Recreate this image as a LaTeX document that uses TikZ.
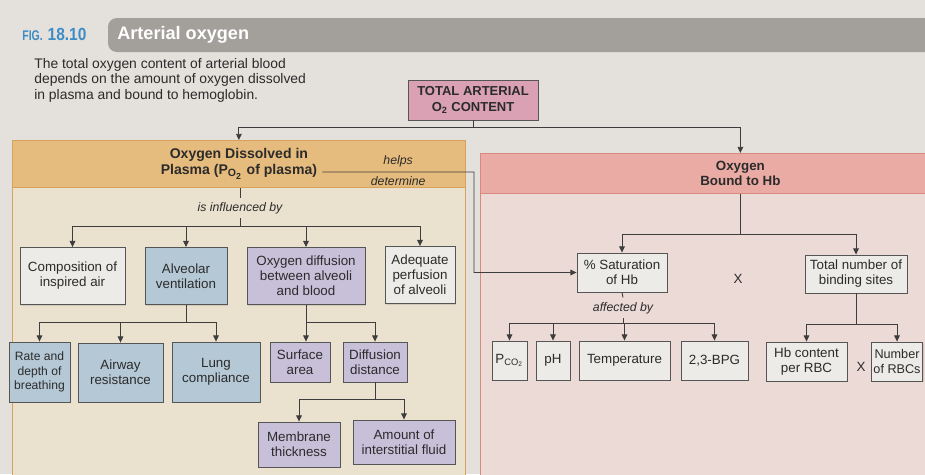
\documentclass[tikz,border=0pt]{standalone}
\usepackage{fontspec}
\setmainfont{Liberation Sans}
\usetikzlibrary{arrows.meta,shadows}

\definecolor{pagebg}{HTML}{E4E1DC}
\definecolor{titlebar}{HTML}{A39F9B}
\definecolor{figblue}{HTML}{3E8CC6}
\definecolor{inkcol}{HTML}{2B2B2B}
\definecolor{linecol}{HTML}{3D3D3D}
\definecolor{boxline}{HTML}{555555}
\definecolor{totalpink}{HTML}{D9A1B3}
\definecolor{lheadcol}{HTML}{E6BC7E}
\definecolor{lheadline}{HTML}{D9A25C}
\definecolor{lbodycol}{HTML}{EBE1CF}
\definecolor{rheadcol}{HTML}{E9ABA3}
\definecolor{rheadline}{HTML}{D98A80}
\definecolor{rbodycol}{HTML}{EBDAD6}
\definecolor{plainbox}{HTML}{ECEBE7}
\definecolor{bluebox}{HTML}{B5C8D5}
\definecolor{purplebox}{HTML}{C8BFD9}

\begin{document}
\begin{tikzpicture}[x=0.02cm,y=-0.02cm]
    \tikzstyle{every node}+=[inner sep=0pt, text=inkcol]
    \tikzstyle{box}=[draw=boxline, line width=0.5pt, align=center, font=\fontsize{7.6}{8.5}\selectfont, drop shadow={shadow xshift=0.7pt, shadow yshift=-0.7pt, opacity=0.25}]
    \tikzstyle{plain}=[box, fill=plainbox]
    \tikzstyle{blue}=[box, fill=bluebox]
    \tikzstyle{violet}=[box, fill=purplebox]
    \tikzstyle{con}=[draw=linecol, line width=0.5pt]
    \tikzstyle{arr}=[con, -{Triangle[length=3.5pt,width=3.2pt]}]
    \tikzstyle{note}=[inner sep=2.5pt, font=\fontsize{7}{8}\selectfont\itshape]
    \useasboundingbox (0,0) rectangle (925,474);
    \clip (0,0) rectangle (925,474);
    \fill [pagebg] (0,0) rectangle (925,474);
    % title strip
    \fill [titlebar, rounded corners=5pt] (108,18) rectangle (960,52);
    \node [anchor=west, text=figblue, font=\bfseries] (fignum) at (22,34) {{\fontsize{8}{9}\selectfont\scalebox{0.75}[1]{FIG.}} {\fontsize{10}{11}\selectfont\scalebox{0.88}[1]{18.10}}};
    \node [anchor=west, text=white, font=\fontsize{10.3}{12}\selectfont\bfseries] (figtitle) at (117,35) {Arterial oxygen};
    \node [anchor=north west, align=left, font=\fontsize{7.9}{8.8}\selectfont] (caption) at (34,58) {The total oxygen content of arterial blood\\depends on the amount of oxygen dissolved\\in plasma and bound to hemoglobin.};
    % top box
    \node [box, fill=totalpink, minimum width=2.6cm, minimum height=0.8cm, font=\fontsize{7.4}{8.6}\selectfont\bfseries] (total) at (473,100) {TOTAL ARTERIAL\\O\textsubscript{2} CONTENT};
    % the two panels
    \draw [fill=lbodycol, draw=lheadline, line width=0.5pt] (12,140) rectangle (465,480);
    \node [fill=lheadcol, draw=lheadline, line width=0.5pt, minimum width=9.06cm, minimum height=0.94cm, anchor=north west] (lhd) at (12,140) {};
    \node [align=center, font=\fontsize{8}{9}\selectfont\bfseries] (dis) at (lhd.center) {Oxygen Dissolved in\\Plasma (P\textsubscript{O\textsubscript{2}} of plasma)};
    \draw [fill=rbodycol, draw=rheadline, line width=0.5pt] (480,153) rectangle (1000,480);
    \node [fill=rheadcol, draw=rheadline, line width=0.5pt, minimum width=10.4cm, minimum height=0.8cm, anchor=north west, align=center, font=\fontsize{7.6}{8.6}\selectfont\bfseries] (rhd) at (480,153) {Oxygen\\Bound to Hb};
    \draw [arr] (total.south) -- ++(0,7) -| (lhd.north);
    \draw [arr] (total.south) -- ++(0,7) -| (rhd.north);
    % left side boxes
    \node [plain, minimum width=2.1cm, minimum height=1.14cm] (comp) at (72.5,276) {Composition of\\inspired air};
    \node [blue, minimum width=1.64cm, minimum height=1.14cm] (alv) at (186,276) {Alveolar\\ventilation};
    \node [violet, minimum width=2.36cm, minimum height=1.14cm] (odiff) at (306,276) {Oxygen diffusion\\between alveoli\\and blood};
    \node [plain, minimum width=1.4cm, minimum height=1.14cm] (perf) at (420,275) {Adequate\\perfusion\\of alveoli};
    \node [blue, minimum width=1.22cm, minimum height=1.2cm, font=\fontsize{6.9}{8.3}\selectfont] (rate) at (39.5,372) {Rate and\\depth of\\breathing};
    \node [blue, minimum width=1.7cm, minimum height=1.18cm] (airway) at (120.5,372.5) {Airway\\resistance};
    \node [blue, minimum width=1.76cm, minimum height=1.2cm] (lung) at (216,372) {Lung\\compliance};
    \node [violet, minimum width=1.2cm, minimum height=0.8cm] (surf) at (300,362) {Surface\\area};
    \node [violet, minimum width=1.28cm, minimum height=0.8cm] (ddist) at (375,362) {Diffusion\\distance};
    \node [violet, minimum width=1.64cm, minimum height=0.9cm] (memb) at (299,444.5) {Membrane\\thickness};
    \node [violet, minimum width=2.04cm, minimum height=0.88cm] (fluid) at (404,442) {Amount of\\interstitial fluid};
    % left side connectors
    \node [note] (infl) at (240,208) {is influenced by};
    \coordinate (jL) at (240,226);
    \draw [con] (lhd.south -| infl) -- (infl.north);
    \draw [con] (infl.south) -- (jL);
    \draw [arr] (jL) -| (comp.north);
    \draw [arr] (jL) -| (alv.north);
    \draw [arr] (jL) -| (odiff.north);
    \draw [arr] (jL) -| (perf.north);
    \draw [arr] (alv.south) -- ++(0,17) -| (rate.north);
    \draw [arr] (alv.south) -- ++(0,17) -| (airway.north);
    \draw [arr] (alv.south) -- ++(0,17) -| (lung.north);
    \draw [arr] (odiff.south) -- (odiff.south |- surf.north);
    \draw [arr] (odiff.south) -- ++(0,17) -| (ddist.north);
    \draw [arr] (ddist.south) -- ++(0,17) -| (memb.north);
    \draw [arr] (ddist.south) -- ++(0,17) -| (fluid.north);
    % right side boxes
    \node [plain, minimum width=1.8cm, minimum height=0.78cm] (sat) at (622,272.5) {\% Saturation\\of Hb};
    \node [font=\fontsize{7.6}{8.5}\selectfont] (times1) at (738,279) {X};
    \node [plain, minimum width=2.04cm, minimum height=0.76cm] (bind) at (856,274) {Total number of\\binding sites};
    \node [plain, minimum width=0.7cm, minimum height=0.78cm] (pco2) at (509.5,360.5) {P\textsubscript{CO\textsubscript{2}}};
    \node [plain, minimum width=0.68cm, minimum height=0.78cm] (ph) at (553,360.5) {pH};
    \node [plain, minimum width=1.82cm, minimum height=0.78cm] (temp) at (624.5,360.5) {Temperature};
    \node [plain, minimum width=1.62cm, minimum height=0.78cm] (hbc) at (806.5,361.5) {Hb content\\per RBC};
    \node [plain, minimum width=1.34cm, minimum height=0.78cm] (bpg) at (714.5,360.5) {2,3-BPG};
    \node [font=\fontsize{7.6}{8.5}\selectfont] (times2) at (861,367) {X};
    \node [plain, minimum width=1.02cm, minimum height=0.78cm, font=\fontsize{7.2}{8.3}\selectfont] (nrbc) at (897,361.5) {Number\\of RBCs};
    % right side connectors
    \coordinate (hbend) at (474,172);
    \draw [arr] ([xshift=0.1cm,yshift=-0.16cm]dis.east) -- node [note, above] {helps} node [note, below] {determine} (hbend) |- (sat.west);
    \draw [arr] (rhd.south) -- ++(0,41) -| (sat.north);
    \draw [arr] (rhd.south) -- ++(0,41) -| (bind.north);
    \node [note] (aff) at (623,308) {affected by};
    \coordinate (jS) at (623,323);
    \draw [con] (sat.south) -- (aff.north);
    \draw [con] (aff.south) -- (jS);
    \draw [arr] (jS) -| (pco2.north);
    \draw [arr] (jS) -| (ph.north);
    \draw [arr] (jS) -| (temp.north);
    \draw [arr] (jS) -| (bpg.north);
    \draw [arr] (bind.south) -- ++(0,31) -| (hbc.north);
    \draw [arr] (bind.south) -- ++(0,31) -| (nrbc.north);
\end{tikzpicture}
\end{document}
